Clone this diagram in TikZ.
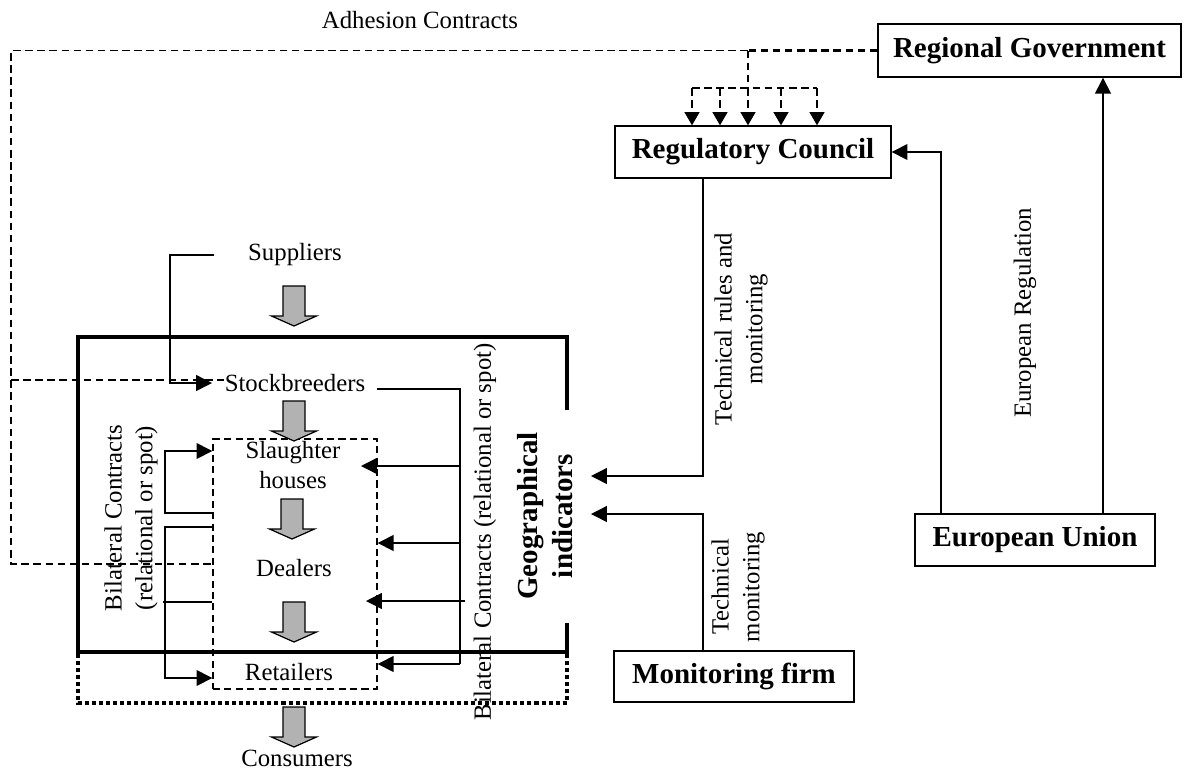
\documentclass[tikz,border=0pt]{standalone}
\usepackage{fontspec}
\setmainfont{Liberation Serif}
\usetikzlibrary{arrows.meta}
\definecolor{blockgray}{gray}{0.7}
\tikzset{
  garrow/.pic={\filldraw[fill=blockgray, draw=black, line width=0.7pt, line join=miter]
     (-11,0) -- (11,0) -- (11,30) -- (22.5,30) -- (0,40) -- (-22.5,30) -- (-11,30) -- cycle;}
}
\begin{document}
\begin{tikzpicture}[x=0.02cm, y=-0.02cm,
  txt/.style={font=\fontsize{14.1}{17.5}\selectfont, inner sep=0pt, align=center},
  btxt/.style={font=\fontsize{16.5}{20}\selectfont\bfseries, inner sep=0pt, align=center},
  box/.style={draw, line width=0.8pt, inner sep=0pt, font=\fontsize{16.5}{20}\selectfont\bfseries},
  ln/.style={line width=0.8pt},
  arr/.style={ln, -{Triangle[length=9pt,width=9pt]}},
  dline/.style={line width=0.7pt, dash pattern=on 4.3pt off 2.6pt},
  darr/.style={dline, -{Triangle[length=7.5pt,width=8.5pt]}},
  thickbox/.style={line width=2.3pt, line join=miter},
  dotbox/.style={line width=2.3pt, dash pattern=on 2.3pt off 1.7pt, line join=miter},
]
\useasboundingbox (0,0) rectangle (1184,769);

% boxes
\node[box, minimum width=6.06cm, minimum height=1.06cm] (rg) at (1029.5,50.5) {Regional Government};
\node[box, minimum width=5.52cm, minimum height=1.04cm] (rc) at (753,152) {Regulatory Council};
\node[box, minimum width=4.8cm, minimum height=1.04cm] (eu) at (1035,540) {European Union};
\node[box, minimum width=4.8cm, minimum height=1.02cm] (mf) at (734,676.5) {Monitoring firm};
\node[draw, line width=0.8pt, dash pattern=on 4pt off 2.5pt, inner sep=0pt,
      minimum width=3.28cm, minimum height=5cm] (inbox) at (295,564) {};

% text
\node[txt] (adh) at (420,20) {Adhesion Contracts};
\node[txt] (sup) at (295,255) {Suppliers};
\node[txt] (stb) at (295,383) {Stockbreeders};
\node[txt] (sla) at (293,465) {Slaughter\\houses};
\node[txt] (dea) at (294,568) {Dealers};
\node[txt] (ret) at (289,672) {Retailers};
\node[txt] (con) at (297,758) {Consumers};
\node[txt, rotate=90] (bcl) at (131,518) {Bilateral Contracts\\(relational or spot)};
\node[txt, rotate=90] (bcr) at (485,532) {Bilateral Contracts (relational or spot)};
\node[btxt, rotate=90] (geo) at (545,516) {Geographical\\indicators};
\node[txt, rotate=90] (trm) at (741,329) {Technical rules and\\monitoring};
\node[txt, rotate=90] (tm) at (738,587) {Technical\\monitoring};
\node[txt, rotate=90] (er) at (1025,313) {European Regulation};

% outer boxes
\draw[dotbox] (567,410) -- (567,337) -- (78,337) -- (78,703) -- (567,703) -- (567,623);
\draw[thickbox] (567,410) -- (567,337) -- (78,337) -- (78,652) -- (567,652) -- (567,623);

% gray block arrows
\pic at (294,286) {garrow};
\pic at (294,401) {garrow};
\pic at (292,499) {garrow};
\pic at (294,602) {garrow};
\pic at (294,707) {garrow};

% adhesion contracts (dashed)
\coordinate (j1) at (748,50.5);
\draw[dline, line width=1.5pt] (rg.west) -- (j1);
\draw[dline] (j1) -- (11,50.5) -- (11,564) -- (inbox.west);
\draw[dline] (11,380) -- (stb.west |- 11,380);
\draw[dline] (j1) -- (748,88);
\draw[dline] (692,88) -- (817,88);
\foreach \xx in {692,720,748,781,817}
  \draw[darr] (\xx,88) -- (\xx,88 |- rc.north);

% regulation arrows
\draw[arr] (eu.north -| 941,0) |- (rc.east);
\draw[arr] (eu.north -| 1103,0) -- (rg.south -| 1103,0);
\coordinate (g1) at (591,476);
\coordinate (g2) at (591,514);
\draw[arr] (rc.south -| 703,0) |- (g1);
\draw[arr] (mf.north -| 703,0) |- (g2);

% suppliers to stockbreeders
\coordinate (s0) at (214,255);
\coordinate (s1) at (212,383);
\draw[arr] (s0) -- (170,255) -- (170,383) -- (s1);

% right bilateral contracts
\draw[ln] (377,389) -- (460,389) -- (460,664);
\draw[arr] (460,664) -- (inbox.east |- 0,664);
\draw[arr] (460,466) -- (361,466);
\draw[arr] (460,543) -- (inbox.east |- 0,543);
\draw[arr] (465,601) -- (366,601);

% left bilateral contracts
\draw[arr] (inbox.west |- 0,513) -- (165,513) -- (165,451) -- (inbox.west |- 0,451);
\draw[arr] (inbox.west |- 0,527) -- (165,527) -- (165,678) -- (inbox.west |- 0,678);
\draw[ln] (163,602) -- (inbox.west |- 0,602);
\end{tikzpicture}
\end{document}
